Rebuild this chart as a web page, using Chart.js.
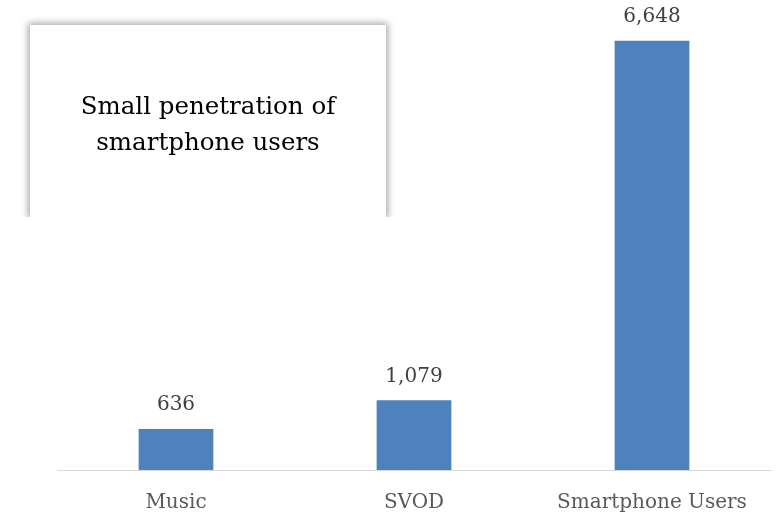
<!DOCTYPE html>
<html>
<head>
<meta charset="utf-8">
<script src="https://cdn.jsdelivr.net/npm/chart.js@4.4.1/dist/chart.umd.min.js"></script>
<style>
  html, body { margin: 0; padding: 0; background: #ffffff; }
  #wrap { position: relative; width: 783px; height: 517px; }
  #note {
    position: absolute; left: 30px; top: 25px; width: 356px; height: 192px;
    box-sizing: border-box; padding-top: 6px;
    background: #ffffff;
    box-shadow: 0 0 7px 2px rgba(0,0,0,0.35);
    clip-path: inset(-12px -12px 0 -12px);
    display: flex; align-items: center; justify-content: center; text-align: center;
    font-family: "DejaVu Serif", serif; font-size: 24.5px; line-height: 36px; color: #000000;
  }
</style>
</head>
<body>
<div id="wrap">
  <canvas id="c" width="783" height="517"></canvas>
  <div id="note">Small penetration of<br>smartphone users</div>
</div>
<script>
const categories = ["Music", "SVOD", "Smartphone Users"];
const users = [636, 1079, 6648];

const labelFont = { family: "DejaVu Serif", size: 20 };

// Writes each bar's value just above its top edge
const valueLabels = {
  id: "valueLabels",
  afterDatasetsDraw(chart) {
    const ctx = chart.ctx;
    const meta = chart.getDatasetMeta(0);
    ctx.save();
    ctx.font = labelFont.size + "px " + labelFont.family;
    ctx.fillStyle = "#404040";
    ctx.textAlign = "center";
    ctx.textBaseline = "middle";
    meta.data.forEach((bar, i) => {
      ctx.fillText(users[i].toLocaleString("en-US"), bar.x, bar.y - 24);
    });
    ctx.restore();
  }
};

new Chart(document.getElementById("c"), {
  type: "bar",
  data: {
    labels: categories,
    datasets: [{
      data: users,
      backgroundColor: "#4F81BD",
      borderWidth: 0,
      categoryPercentage: 1,
      barPercentage: 0.314
    }]
  },
  options: {
    responsive: false,
    animation: false,
    layout: { padding: { left: 57, right: 12, top: 18, bottom: 0 } },
    plugins: { legend: { display: false }, tooltip: { enabled: false } },
    scales: {
      y: { display: false, min: 0, max: 7000 },
      x: {
        grid: { display: false, drawTicks: false },
        border: { display: true, color: "#d9d9d9", width: 1 },
        ticks: { font: labelFont, color: "#595959", padding: 21 },
        afterFit(scale) { scale.height = 47; }
      }
    }
  },
  plugins: [valueLabels]
});
</script>
</body>
</html>
